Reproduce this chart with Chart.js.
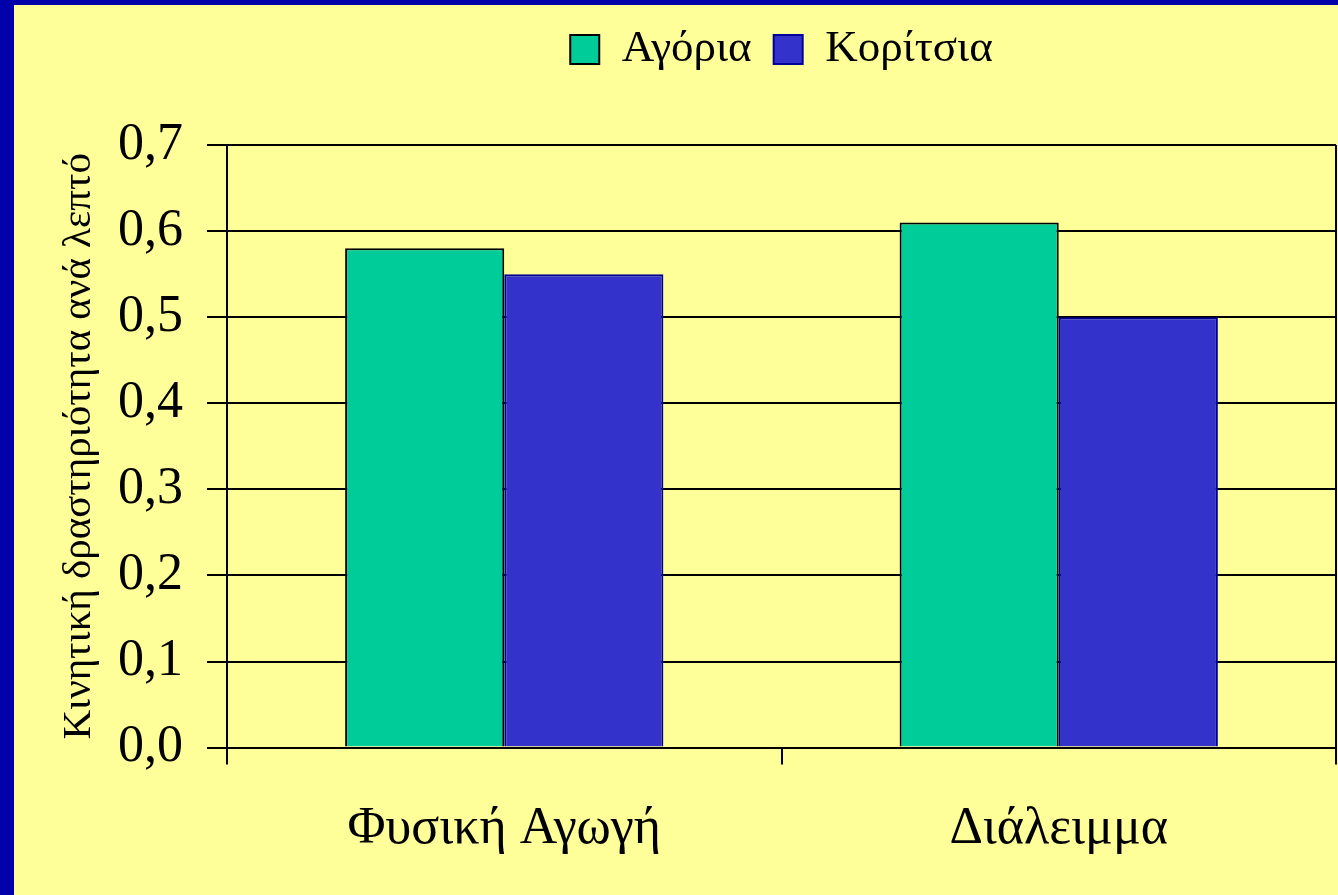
<!DOCTYPE html>
<html>
<head>
<meta charset="utf-8">
<script src="https://cdn.jsdelivr.net/npm/chart.js@4"></script>
<style>
    html, body {
        margin: 0;
        padding: 0;
        background: #0000AA;
        width: 1338px;
        height: 895px;
        overflow: hidden;
    }
    #frame {
        position: absolute;
        left: 14px;
        top: 5px;
        width: 1324px;
        height: 890px;
        background: #FFFF99;
    }
</style>
</head>
<body>
<div id="frame">
    <canvas id="activityChart" width="1324" height="890"></canvas>
</div>
<script>
const categories = [
    "Φυσική Αγωγή",
    "Διάλειμμα"
];

const boys = [
    0.58,
    0.61
];

const girls = [
    0.55,
    0.50
];

const seriesNames = [
    "Αγόρια",
    "Κορίτσια"
];

const axisTitle =
    "Κινητική δραστηριότητα ανά λεπτό";

const serif =
    "'Liberation Serif', 'Times New Roman', serif";

document.addEventListener(

    "DOMContentLoaded",

    () => {

        /*
         * Plot frame (right edge) + legend spacing
         */

        const framePlugin = {

            id: "plotFrame",

            beforeLayout(chart) {

                const legend = chart.legend;

                if (
                    legend &&
                    !legend._extraSpace
                ) {

                    const fit = legend.fit;

                    legend.fit = function () {
                        fit.call(this);
                        this.height += 63;
                    };

                    legend._extraSpace = true;

                }

            },

            afterDatasetsDraw(chart) {

                const area = chart.chartArea;
                const ctx = chart.ctx;

                ctx.save();
                ctx.strokeStyle = "#000";
                ctx.lineWidth = 2;
                ctx.beginPath();
                ctx.moveTo(area.right, area.top);
                ctx.lineTo(area.right, area.bottom);
                ctx.stroke();
                ctx.restore();

            }

        };

        const canvas =
            document.getElementById(
                "activityChart"
            );

        new Chart(

            canvas,

            {

                type: "bar",

                data: {

                    labels: categories,

                    datasets: [

                        {
                            label: seriesNames[0],
                            data: boys,
                            backgroundColor: "#00CC99",
                            borderColor: "#000000",
                            borderWidth: 2,
                            barPercentage: 1,
                            categoryPercentage: 0.574
                        },

                        {
                            label: seriesNames[1],
                            data: girls,
                            backgroundColor: "#3333CC",
                            borderColor: "#000099",
                            borderWidth: 2,
                            barPercentage: 1,
                            categoryPercentage: 0.574
                        }

                    ]

                },

                options: {

                    responsive: false,
                    animation: false,

                    layout: {
                        padding: {
                            left: 0,
                            right: 2,
                            top: 0,
                            bottom: 0
                        }
                    },

                    plugins: {

                        tooltip: {
                            enabled: false
                        },

                        legend: {
                            position: "top",
                            fullSize: false,
                            labels: {
                                boxWidth: 29,
                                boxHeight: 29,
                                padding: 22,
                                color: "#000",
                                font: {
                                    family: serif,
                                    size: 45
                                }
                            }
                        }

                    },

                    scales: {

                        x: {
                            grid: {
                                drawOnChartArea: false,
                                drawTicks: true,
                                tickLength: 17,
                                color: "#000",
                                lineWidth: 2
                            },
                            border: {
                                display: true,
                                color: "#000",
                                width: 2
                            },
                            ticks: {
                                color: "#000",
                                padding: 34,
                                font: {
                                    family: serif,
                                    size: 52
                                }
                            }
                        },

                        y: {
                            min: 0,
                            max: 0.7,
                            afterFit(scale) {
                                scale.width = 213;
                            },
                            grid: {
                                color: "#000",
                                lineWidth: 2,
                                tickLength: 20
                            },
                            border: {
                                display: true,
                                color: "#000",
                                width: 2
                            },
                            ticks: {
                                stepSize: 0.1,
                                color: "#000",
                                padding: 24,
                                font: {
                                    family: serif,
                                    size: 52
                                },
                                callback: v => v.toFixed(1).replace(".", ",")
                            },
                            title: {
                                display: true,
                                text: axisTitle,
                                color: "#000",
                                padding: {
                                    top: 41,
                                    bottom: 0
                                },
                                font: {
                                    family: serif,
                                    size: 41
                                }
                            }
                        }

                    }

                },

                plugins: [framePlugin]

            }

        );

    }

);
</script>
</body>
</html>
